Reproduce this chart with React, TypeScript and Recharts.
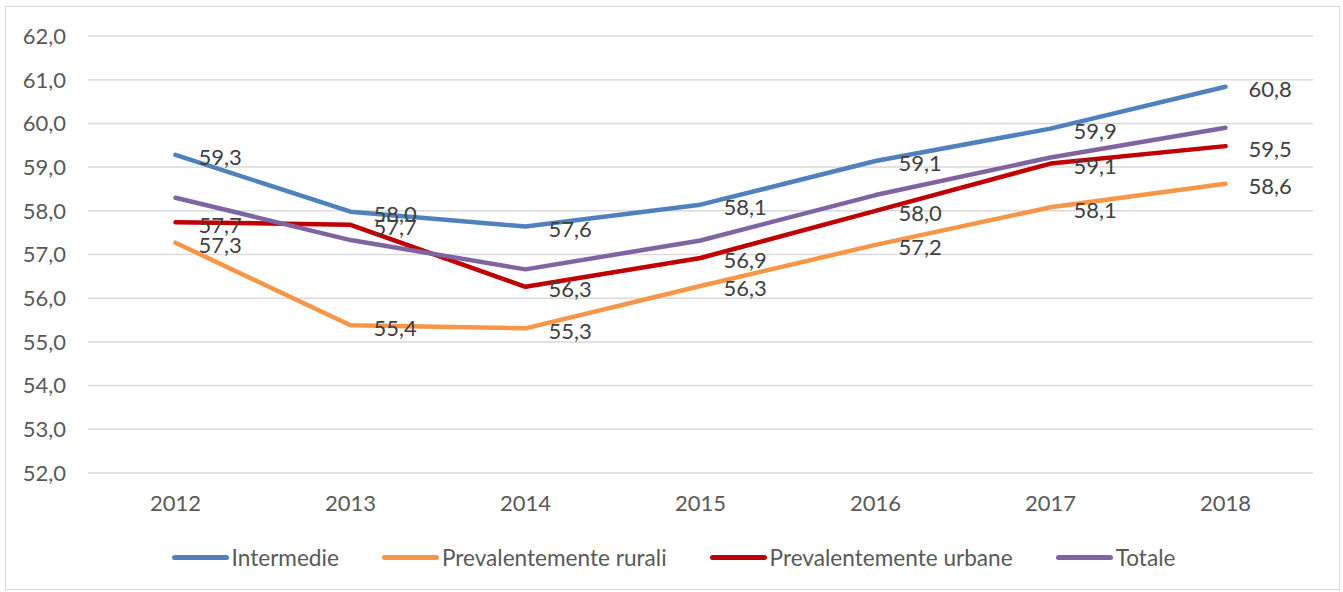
import React from "react";
import {
  LineChart,
  Line,
  XAxis,
  YAxis,
  CartesianGrid,
  Legend,
  LabelList,
} from "recharts";

const years = ["2012", "2013", "2014", "2015", "2016", "2017", "2018"];
const intermedie = [59.28, 57.98, 57.64, 58.14, 59.14, 59.88, 60.84];
const rurali = [57.27, 55.38, 55.31, 56.28, 57.22, 58.08, 58.62];
const urbane = [57.74, 57.68, 56.26, 56.92, 58.0, 59.08, 59.48];
const totale = [58.3, 57.33, 56.66, 57.32, 58.36, 59.22, 59.9];
const yTicks = [52, 53, 54, 55, 56, 57, 58, 59, 60, 61, 62];

const series = [
  { key: "intermedie", name: "Intermedie", color: "#4F81BD", labels: true },
  { key: "rurali", name: "Prevalentemente rurali", color: "#F79646", labels: true },
  { key: "urbane", name: "Prevalentemente urbane", color: "#C00000", labels: true },
  { key: "totale", name: "Totale", color: "#8064A2", labels: false },
];

const data = years.map((year, i) => ({
  year,
  intermedie: intermedie[i],
  rurali: rurali[i],
  urbane: urbane[i],
  totale: totale[i],
}));

const FONT = "Lato, 'Open Sans', sans-serif";
const fmt = (v: number) => v.toFixed(1).replace(".", ",");

const renderLabel = (props: any) => {
  const { x, y, value } = props;
  return (
    <text
      x={x + 23}
      y={y + 2}
      dominantBaseline="central"
      fill="#404040"
      fontSize={22}
      fontFamily={FONT}
    >
      {fmt(value)}
    </text>
  );
};

const renderLegend = () => (
  <div
    style={{
      height: 40,
      display: "flex",
      alignItems: "center",
      justifyContent: "center",
      fontFamily: FONT,
      fontSize: 22.6,
      color: "#595959",
      paddingLeft: 34,
    }}
  >
    {series.map((s, i) => (
      <div
        key={s.key}
        style={{ display: "flex", alignItems: "center", marginLeft: i ? 43 : 0 }}
      >
        <div
          style={{
            width: 57,
            height: 5,
            borderRadius: 3,
            background: s.color,
            marginRight: 3,
          }}
        />
        <span>{s.name}</span>
      </div>
    ))}
  </div>
);

export default function App() {
  return (
    <div style={{ position: "absolute", left: 0, top: 0, width: 1343, height: 592, background: "#fff" }}>
      <div
        style={{
          position: "absolute",
          left: 5,
          top: 6,
          width: 1333,
          height: 582,
          border: "1.5px solid #d9d9d9",
        }}
      />
      <LineChart
        width={1343}
        height={592}
        data={data}
        margin={{ top: 36, right: 30, bottom: 15, left: 0 }}
      >
        <CartesianGrid vertical={false} stroke="#d9d9d9" strokeWidth={1.5} />
        <XAxis
          dataKey="year"
          padding={{ left: 87.5, right: 87.5 }}
          axisLine={false}
          tickLine={false}
          tickSize={0}
          tickMargin={22}
          height={64}
          tick={{ fill: "#595959", fontSize: 22, fontFamily: FONT }}
        />
        <YAxis
          domain={[52, 62]}
          ticks={yTicks}
          interval={0}
          width={88}
          axisLine={false}
          tickLine={false}
          tickSize={0}
          tickMargin={22}
          tickFormatter={fmt}
          tick={{ fill: "#595959", fontSize: 22, fontFamily: FONT }}
        />
        <Legend verticalAlign="bottom" height={40} content={renderLegend} />
        {series.map((s) => (
          <Line
            key={s.key}
            dataKey={s.key}
            name={s.name}
            type="linear"
            stroke={s.color}
            strokeWidth={4.5}
            strokeLinejoin="round"
            strokeLinecap="round"
            dot={false}
            activeDot={false}
            isAnimationActive={false}
          >
            {s.labels && <LabelList dataKey={s.key} content={renderLabel} />}
          </Line>
        ))}
      </LineChart>
    </div>
  );
}
